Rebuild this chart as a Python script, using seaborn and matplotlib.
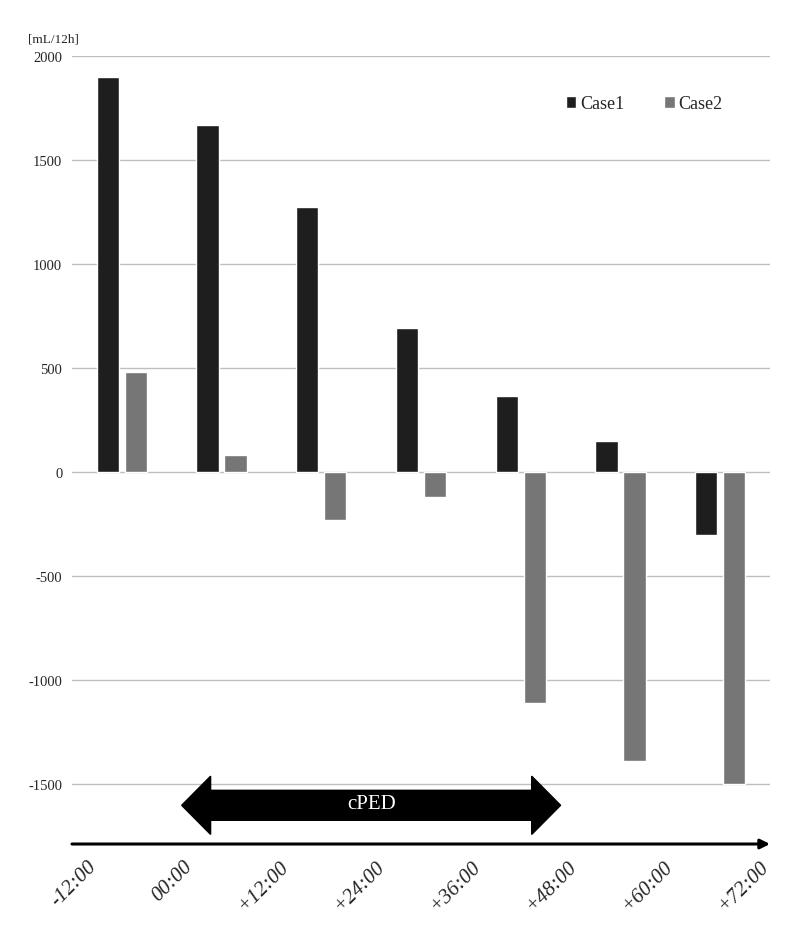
import numpy as np
import pandas as pd
import matplotlib
matplotlib.use("Agg")
import matplotlib.pyplot as plt
import matplotlib.patches as mpatches
import seaborn as sns

# data
periods = ["P1", "P2", "P3", "P4", "P5", "P6", "P7"]
case1 = [1900, 1670, 1275, 695, 365, 150, -300]
case2 = [480, 85, -230, -120, -1110, -1385, -1500]
time_labels = ["-12:00", "00:00", "+12:00", "+24:00", "+36:00", "+48:00", "+60:00", "+72:00"]
y_ticks = [-1500, -1000, -500, 0, 500, 1000, 1500, 2000]
ped_span = (0.6, 4.4)   # cPED arrow, in category units
ped_level = -1600

df = pd.DataFrame({
    "period": periods * 2,
    "value": case1 + case2,
    "case": ["Case1"] * len(periods) + ["Case2"] * len(periods),
})

sns.set_style("white")
plt.rcParams["font.family"] = ["Liberation Serif", "DejaVu Serif"]

fig = plt.figure(figsize=(8, 9.45), dpi=100)
ax = fig.add_axes([0.09, 0.1058, 0.8725, 0.8339])

sns.barplot(data=df, x="period", y="value", hue="case",
            palette={"Case1": "#1e1e1e", "Case2": "#767676"},
            width=0.56, gap=0.2, ax=ax, legend=True)

ax.set_xlim(-0.5, 6.5)
ax.set_ylim(-1786, 2000)
ax.set_yticks(y_ticks)
ax.set_yticklabels([str(v) for v in y_ticks], fontsize=10.5)
ax.yaxis.grid(True, color="#bfbfbf", linewidth=1)
ax.set_axisbelow(True)
ax.tick_params(axis="y", length=0, pad=7)
ax.set_xlabel("")
ax.set_ylabel("")
for s in ax.spines.values():
    s.set_visible(False)

# x axis: time labels near the category boundaries, italic, rotated
label_pos = 0.15 + 0.964 * np.arange(len(time_labels)) - 0.5
ax.set_xticks(label_pos)
ax.set_xticklabels(time_labels, rotation=45, ha="right", rotation_mode="anchor",
                   fontsize=15, style="italic")
ax.tick_params(axis="x", length=0, pad=9)

# arrow-style x axis line
ax.annotate("", xy=(1.0, 0.0), xytext=(0.0, 0.0), xycoords="axes fraction",
            arrowprops=dict(arrowstyle="-|>", color="black", lw=2.2,
                            mutation_scale=14, shrinkA=0, shrinkB=0))

# cPED double arrow
x0, x1 = ped_span
head_len = 0.29
body_h = 72
head_h = 140
verts = [
    (x0, ped_level),
    (x0 + head_len, ped_level + head_h),
    (x0 + head_len, ped_level + body_h),
    (x1 - head_len, ped_level + body_h),
    (x1 - head_len, ped_level + head_h),
    (x1, ped_level),
    (x1 - head_len, ped_level - head_h),
    (x1 - head_len, ped_level - body_h),
    (x0 + head_len, ped_level - body_h),
    (x0 + head_len, ped_level - head_h),
]
ax.add_patch(mpatches.Polygon(verts, closed=True, facecolor="black",
                              edgecolor="black", clip_on=False, zorder=3))
ax.text((x0 + x1) / 2, ped_level + 10, "cPED", color="white", fontsize=15,
        ha="center", va="center", zorder=4)

# legend
handles, labels = ax.get_legend_handles_labels()
ax.legend(handles, labels, loc="center", bbox_to_anchor=(0.805, 0.889),
          bbox_transform=fig.transFigure, ncol=2, frameon=False, fontsize=13,
          handlelength=0.6, handleheight=0.6, handletextpad=0.2,
          columnspacing=2.2)

fig.text(0.035, 0.958, "[mL/12h]", fontsize=9.5, ha="left", va="center")

fig.savefig("out.png", dpi=100)
